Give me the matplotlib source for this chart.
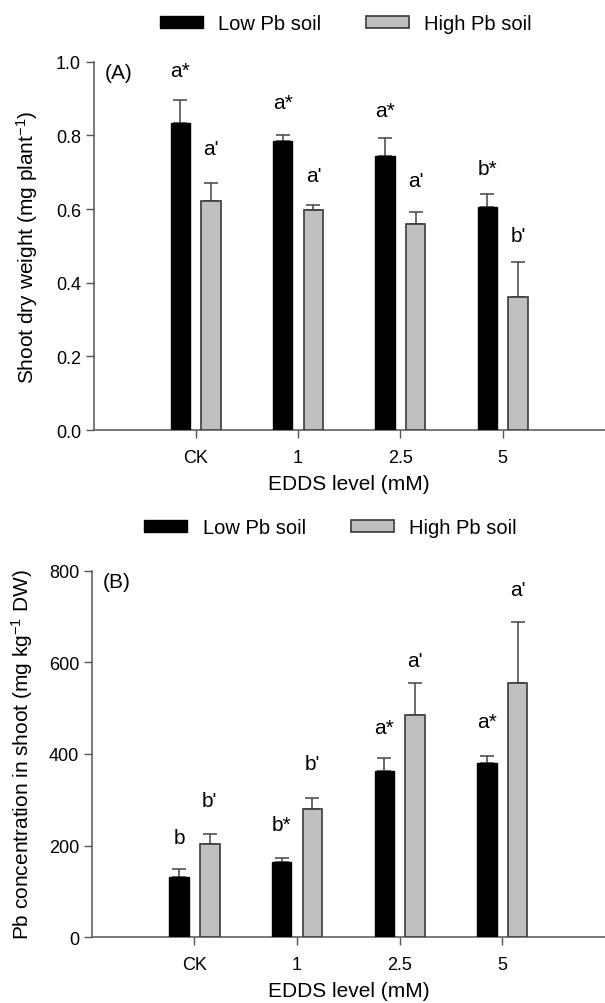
import matplotlib
matplotlib.use("Agg")
import matplotlib.pyplot as plt
from matplotlib.patches import Patch
import numpy as np

plt.rcParams['font.family'] = ['Liberation Sans', 'DejaVu Sans']
plt.rcParams['mathtext.fontset'] = 'custom'
plt.rcParams['mathtext.rm'] = 'Liberation Sans'
plt.rcParams['mathtext.it'] = 'Liberation Sans:italic'
plt.rcParams['mathtext.bf'] = 'Liberation Sans:bold'

categories = ["CK", "1", "2.5", "5"]
series_names = ["Low Pb soil", "High Pb soil"]

# Panel A: shoot dry weight (mg plant-1)
a_low = [0.834, 0.786, 0.744, 0.605]
a_low_err = [0.061, 0.014, 0.049, 0.036]
a_high = [0.623, 0.596, 0.558, 0.362]
a_high_err = [0.049, 0.015, 0.035, 0.095]
a_low_letters = ["a*", "a*", "a*", "b*"]
a_low_letter_y = [0.976, 0.890, 0.867, 0.711]
a_high_letters = ["a'", "a'", "a'", "b'"]
a_high_letter_y = [0.763, 0.690, 0.677, 0.527]

# Panel B: Pb concentration in shoot (mg kg-1 DW)
b_low = [132, 165, 362, 380]
b_low_err = [17, 8, 29, 16]
b_high = [204, 281, 485, 555]
b_high_err = [22, 24, 71, 132]
b_low_letters = ["b", "b*", "a*", "a*"]
b_low_letter_y = [218, 247, 458, 470]
b_high_letters = ["b'", "b'", "a'", "a'"]
b_high_letter_y = [298, 379, 603, 760]

BLACK = "#000000"
GRAY = "#c0c0c0"
EDGE_G = "#3a3a3a"
AXC = "#555555"

fig = plt.figure(figsize=(6.05, 10.04), dpi=100)
axA = fig.add_axes([93.5/605, 1 - 431/1004, 1 - 93.5/605, 368.3/1004])
axB = fig.add_axes([91.7/605, 1 - 938.3/1004, 1 - 91.7/605, 366.6/1004])

x = np.arange(len(categories))
w = 0.19
off = 0.15


def draw(ax, low, low_err, high, high_err, lowL, lowY, highL, highY,
         ylim, yticks, yfmt, ylabel, tag, ylab_x):
    ax.bar(x - off, low, w, color=BLACK, edgecolor=BLACK, linewidth=1.0, zorder=3)
    ax.bar(x + off, high, w, color=GRAY, edgecolor=EDGE_G, linewidth=1.2, zorder=3)
    ax.errorbar(x - off, low, yerr=[np.zeros(len(low)), low_err], fmt='none',
                ecolor="#444444", elinewidth=1.1, capsize=5, capthick=1.1, zorder=2)
    ax.errorbar(x + off, high, yerr=[np.zeros(len(high)), high_err], fmt='none',
                ecolor="#444444", elinewidth=1.1, capsize=5, capthick=1.1, zorder=2)
    for i in range(len(x)):
        ax.text(x[i] - off, lowY[i], lowL[i], ha='center', va='center', fontsize=15)
        ax.text(x[i] + off, highY[i], highL[i], ha='center', va='center', fontsize=15)
    ax.set_xlim(-1, 4)
    ax.set_ylim(*ylim)
    ax.set_yticks(yticks)
    ax.set_yticklabels([yfmt.format(v) for v in yticks])
    ax.set_xticks(x)
    ax.set_xticklabels(categories)
    for s in ['top', 'right']:
        ax.spines[s].set_visible(False)
    for s in ['left', 'bottom']:
        ax.spines[s].set_color(AXC)
        ax.spines[s].set_linewidth(1.1)
    ax.tick_params(axis='both', colors=AXC, labelcolor='black', length=5.5,
                   width=1.0, labelsize=13)
    ax.tick_params(axis='x', pad=8)
    ax.tick_params(axis='y', pad=3.5)
    ax.set_xlabel("EDDS level (mM)", fontsize=15, labelpad=6)
    ax.set_ylabel(ylabel, fontsize=15, va='center')
    ax.yaxis.set_label_coords(ylab_x, 0.5)
    ax.text(0.022, 0.97, tag, transform=ax.transAxes, ha='left', va='center', fontsize=15)


draw(axA, a_low, a_low_err, a_high, a_high_err, a_low_letters, a_low_letter_y,
     a_high_letters, a_high_letter_y, (0, 1.0), [0.0, 0.2, 0.4, 0.6, 0.8, 1.0], "{:.1f}",
     "Shoot dry weight (mg plant$^{-1}$)", "(A)", -0.13)
draw(axB, b_low, b_low_err, b_high, b_high_err, b_low_letters, b_low_letter_y,
     b_high_letters, b_high_letter_y, (0, 800), [0, 200, 400, 600, 800], "{:d}",
     "Pb concentration in shoot (mg kg$^{-1}$ DW)", "(B)", -0.136)

handles = [Patch(facecolor=BLACK, edgecolor=BLACK),
           Patch(facecolor=GRAY, edgecolor=EDGE_G, linewidth=1.2)]
for cx, cy in [(345.8/605, 1 - 24.5/1004), (330.5/605, 1 - 529/1004)]:
    fig.legend(handles, series_names, loc='center', bbox_to_anchor=(cx, cy), ncol=2,
               frameon=False, fontsize=14.5, handlelength=2.14, handleheight=0.55,
               handletextpad=0.75, columnspacing=2.24, borderpad=0, borderaxespad=0)

fig.savefig("out.png", dpi=100)
